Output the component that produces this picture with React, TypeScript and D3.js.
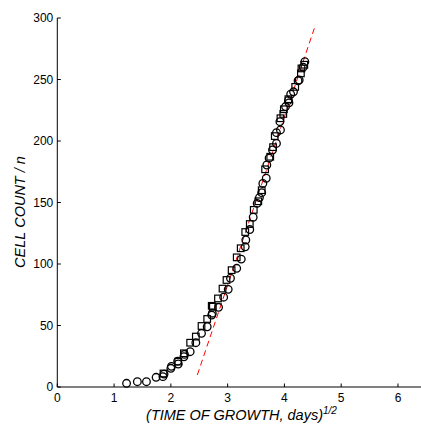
import React from "react";
import * as d3 from "d3";

// sqrt(time of growth, days) and cell counts
const circleX = [1.22, 1.41, 1.57, 1.74, 1.86, 1.88, 2.0, 2.01, 2.13, 2.12, 2.23, 2.24, 2.34, 2.44, 2.54, 2.64, 2.72, 2.73, 2.84, 2.93, 3.01, 3.05, 3.16, 3.24, 3.31, 3.32, 3.39, 3.45, 3.52, 3.56, 3.6, 3.62, 3.68, 3.69, 3.73, 3.79, 3.86, 3.86, 3.93, 3.92, 4.02, 4.07, 4.08, 4.11, 4.16, 4.24, 4.26, 4.33, 4.36];
const circleY = [3, 4.3, 4.3, 7.9, 8.4, 10.5, 15.2, 16.8, 18.7, 21, 24.6, 26.5, 28.7, 36, 43.6, 49, 58.5, 60, 64.8, 73, 79.4, 88.4, 96.5, 104, 114, 119.5, 128, 138, 149.3, 154, 158, 165.5, 169.7, 180.5, 186, 192.7, 198, 206.8, 209, 215.7, 228, 233, 231, 238, 240, 249, 249.6, 260, 264.5];
const squareX = [1.87, 2.13, 2.23, 2.34, 2.44, 2.54, 2.64, 2.72, 2.74, 2.83, 2.91, 2.98, 3.07, 3.16, 3.23, 3.31, 3.39, 3.46, 3.54, 3.6, 3.66, 3.75, 3.8, 3.83, 3.93, 3.98, 3.99, 4.07, 4.19, 4.29, 4.3, 4.35];
const squareY = [11, 20.6, 27.4, 36, 41, 49.6, 55.3, 66, 65.3, 72, 80, 87, 95, 105.4, 112.8, 126, 132.5, 144, 151, 160, 177, 187.2, 195, 204, 218.5, 222, 225.8, 234, 244, 255, 259, 262];
const fitX = [2.466, 4.527];
const fitY = [9.8, 291.6];

const xTicks = [0, 1, 2, 3, 4, 5, 6];
const yTicks = [0, 50, 100, 150, 200, 250, 300];

export default function App() {
  const W = 421, H = 430;
  const x = d3.scaleLinear().domain([0, 6.5]).range([57.3, 57.3 + 6.5 * 56.78]);
  const y = d3.scaleLinear().domain([0, 300]).range([387, 18]);
  const font = "'Liberation Sans', Arial, Helvetica, sans-serif";
  const x0 = x(0), y0 = y(0);
  const line = d3.line<[number, number]>().x(d => x(d[0])).y(d => y(d[1]));
  const fit: [number, number][] = fitX.map((v, i) => [v, fitY[i]]);
  const sq = 6.6;
  return (
    <svg width={W} height={H} style={{ position: "fixed", left: 0, top: 0, background: "#fff" }} fontFamily={font}>
      <rect width={W} height={H} fill="#fff" />
      {/* axes */}
      <line x1={x0} x2={x(6.5)} y1={y0} y2={y0} stroke="#000" strokeWidth={1} />
      <line x1={x0} x2={x0} y1={y0} y2={y(300)} stroke="#000" strokeWidth={1} />
      {xTicks.map(t => (
        <g key={"xt" + t}>
          <line x1={x(t)} x2={x(t)} y1={y0} y2={y0 - 3.5} stroke="#000" />
          <text x={x(t)} y={y0 + 15} fontSize={12} textAnchor="middle">{t}</text>
        </g>
      ))}
      {yTicks.map(t => (
        <g key={"yt" + t}>
          <line x1={x0} x2={x0 + 3.5} y1={y(t)} y2={y(t)} stroke="#000" />
          <text x={x0 - 4} y={y(t) + 4.3} fontSize={12} textAnchor="end">{t}</text>
        </g>
      ))}
      {/* fit line */}
      <path d={line(fit) || ""} fill="none" stroke="#ff0000" strokeWidth={1} strokeDasharray="6,4" />
      {/* markers */}
      {squareX.map((v, i) => (
        <rect key={"s" + i} x={x(v) - sq / 2} y={y(squareY[i]) - sq / 2} width={sq} height={sq} fill="none" stroke="#000" strokeWidth={1.2} />
      ))}
      {circleX.map((v, i) => (
        <circle key={"c" + i} cx={x(v)} cy={y(circleY[i])} r={3.8} fill="none" stroke="#000" strokeWidth={1.3} />
      ))}
      {/* labels */}
      <text x={241.5} y={420} fontSize={14.5} fontStyle="italic" textAnchor="middle">
        (TIME OF GROWTH, days)<tspan fontSize={10} dy={-6}>1/2</tspan>
      </text>
      <text transform="translate(25,212) rotate(-90)" fontSize={14.5} fontStyle="italic" textAnchor="middle">CELL COUNT / n</text>
    </svg>
  );
}
